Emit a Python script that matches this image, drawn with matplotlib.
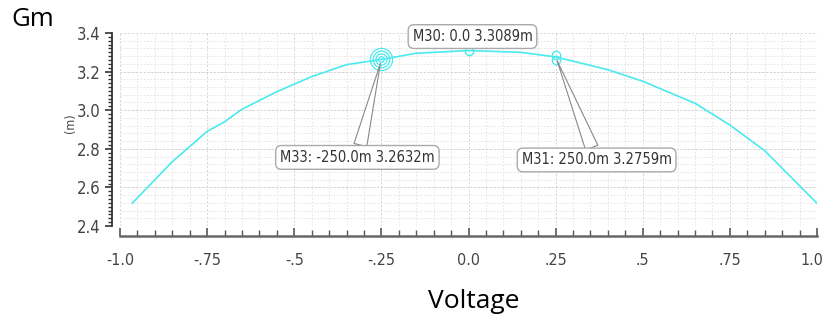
import numpy as np
import matplotlib
matplotlib.use('Agg')
import matplotlib.pyplot as plt
import matplotlib.transforms as mtransforms
from matplotlib.ticker import MultipleLocator

plt.rcParams['font.family'] = ['DejaVu Sans']
plt.rcParams['font.stretch'] = 'condensed'

# Gm vs voltage sweep
volt = [-0.965, -0.85, -0.75, -0.7, -0.65, -0.55, -0.45, -0.35, -0.25, -0.15, 0.0,
        0.15, 0.25, 0.4, 0.5, 0.65, 0.75, 0.85, 1.0]
gm = [2.518, 2.733, 2.89, 2.94, 3.005, 3.096, 3.174, 3.236, 3.263, 3.295, 3.309,
      3.300, 3.276, 3.21, 3.15, 3.036, 2.923, 2.79, 2.518]

# markers
mk_x = [-0.25, 0.0, 0.25]
mk_y = [3.2632, 3.3089, 3.2759]
mk_text = ['M33: -250.0m 3.2632m', 'M30: 0.0 3.3089m', 'M31: 250.0m 3.2759m']

xticks = [-1.0, -0.75, -0.5, -0.25, 0.0, 0.25, 0.5, 0.75, 1.0]
xticklabels = ['-1.0', '-.75', '-.5', '-.25', '0.0', '.25', '.5', '.75', '1.0']
yticks = [2.4, 2.6, 2.8, 3.0, 3.2, 3.4]

cyan = '#4aeaee'

fig = plt.figure(figsize=(8.25, 3.25), dpi=100)
ax = fig.add_axes([120/825, 1-226/325, (817-120)/825, (226-33)/325])

ax.plot(volt, gm, color=cyan, linewidth=1.2)
ax.set_xlim(-1.0, 1.0)
ax.set_ylim(2.4, 3.4)

# grid
ax.xaxis.set_minor_locator(MultipleLocator(0.05))
ax.yaxis.set_minor_locator(MultipleLocator(0.02))
ax.grid(True, which='major', color='#d4d4d4', linestyle=(0, (2, 2)), linewidth=0.7)
ax.grid(True, which='minor', axis='x', color='#e0e0e0', linestyle=(0, (2, 2)), linewidth=0.6)
for yy in np.arange(2.44, 3.4, 0.04):
    ax.axhline(yy, color='#e0e0e0', linestyle=(0, (2, 2)), linewidth=0.6, zorder=0)

ax.set_xticks(xticks)
ax.set_xticklabels(xticklabels)
ax.set_yticks(yticks)
ax.set_yticklabels(['%.1f' % v for v in yticks])

for s in ['top', 'right']:
    ax.spines[s].set_visible(False)
ax.spines['left'].set_position(('outward', 5.8))
ax.spines['bottom'].set_position(('outward', 7.2))
ax.spines['left'].set_color('#333333')
ax.spines['left'].set_linewidth(1.3)
ax.spines['bottom'].set_color('#666666')
ax.spines['bottom'].set_linewidth(1.8)

ax.tick_params(axis='x', which='major', direction='in', length=6, width=1.2, color='#555555',
               labelsize=11.5, labelcolor='#444444', pad=12)
ax.tick_params(axis='x', which='minor', direction='in', length=4, width=1.0, color='#555555')
ax.tick_params(axis='y', which='major', direction='out', length=5, width=1.2, color='#333333',
               labelsize=12, labelcolor='#444444', pad=3)
ax.tick_params(axis='y', which='minor', direction='out', length=3, width=1.0, color='#333333')

# last x label sits on the edge, nudge it in a little
lbl = ax.get_xticklabels()[-1]
lbl.set_transform(lbl.get_transform() + mtransforms.ScaledTranslation(-5/100, 0, fig.dpi_scale_trans))

fig.text(71/825, 1-123/325, '(m)', fontsize=9, color='#444444', rotation=90,
         va='center', ha='center')

# markers
ax.plot(mk_x[1], mk_y[1], 'o', ms=6, mfc='none', mec=cyan, mew=1.0, clip_on=False)
ax.plot(mk_x[2], mk_y[2] + 0.012, 'o', ms=6, mfc='none', mec=cyan, mew=1.0, clip_on=False)
ax.plot(mk_x[2], mk_y[2] - 0.018, 'o', ms=6, mfc='none', mec=cyan, mew=1.0, clip_on=False)
for ms in [4, 8, 12, 16]:
    ax.plot(mk_x[0], mk_y[0], 'o', ms=ms, mfc='none', mec=cyan, mew=0.9, clip_on=False)

box = dict(boxstyle='round,pad=0.3,rounding_size=0.4', fc='white', ec='#aaaaaa', lw=1.0)
wedge = dict(arrowstyle='wedge,tail_width=0.9', fc='white', ec='#888888', lw=0.8,
             shrinkA=0, shrinkB=3)
offsets = [(-24, -98), (4, 14), (41, -103)]
for i in range(3):
    if i == 1:
        ax.annotate(mk_text[i], xy=(mk_x[i], mk_y[i]), xytext=offsets[i],
                    textcoords='offset pixels', ha='center', va='center', fontsize=10.5,
                    color='#333333', bbox=box, annotation_clip=False)
    else:
        ax.annotate(mk_text[i], xy=(mk_x[i], mk_y[i]), xytext=offsets[i],
                    textcoords='offset pixels', ha='center', va='center', fontsize=10.5,
                    color='#333333', bbox=box, arrowprops=wedge, annotation_clip=False)

fig.text(11/825, 1-20/325, 'Gm', fontsize=18.5, family='Open Sans', stretch='normal',
         va='center', ha='left')
fig.text(474/825, 1-302/325, 'Voltage', fontsize=19, family='Open Sans', stretch='normal',
         va='center', ha='center')

fig.savefig('out.png', dpi=100)
